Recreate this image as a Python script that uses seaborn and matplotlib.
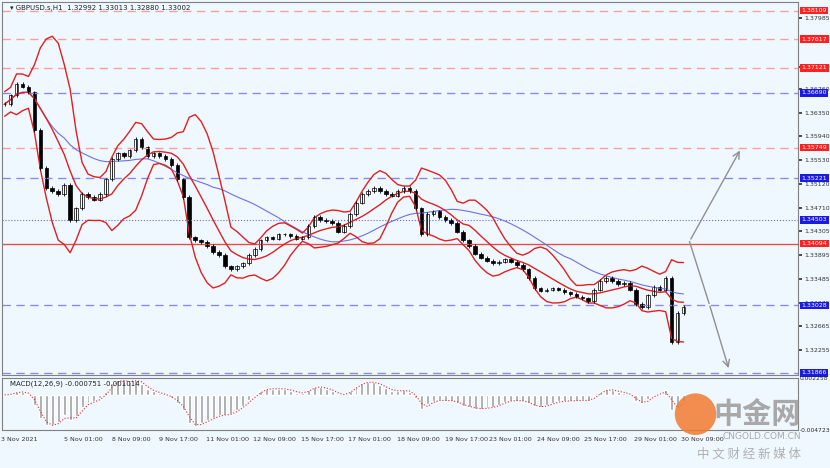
import numpy as np
import pandas as pd
import seaborn as sns
import matplotlib.pyplot as plt
from matplotlib.patches import Ellipse

sns.set_theme(style='white')
plt.rcParams['font.family'] = ['DejaVu Sans', 'Noto Sans CJK SC']

# 4-hour closes
closes = [1.3650, 1.3665, 1.3685, 1.3680, 1.3670, 1.3605, 1.3540, 1.3505, 1.3500, 1.3495,
          1.3510, 1.3450, 1.3470, 1.3495, 1.3490, 1.3485, 1.3495, 1.3520, 1.3555, 1.3565,
          1.3560, 1.3570, 1.3590, 1.3575, 1.3560, 1.3565, 1.3560, 1.3555, 1.3545, 1.3520,
          1.3490, 1.3420, 1.3415, 1.3412, 1.3405, 1.3395, 1.3390, 1.3370, 1.3365, 1.3370,
          1.3375, 1.3390, 1.3400, 1.3415, 1.3420, 1.3418, 1.3425, 1.3425, 1.3422, 1.3418,
          1.3420, 1.3440, 1.3455, 1.3450, 1.3448, 1.3445, 1.3430, 1.3440, 1.3460, 1.3480,
          1.3495, 1.3500, 1.3505, 1.3500, 1.3495, 1.3492, 1.3500, 1.3505, 1.3500, 1.3470,
          1.3425, 1.3460, 1.3465, 1.3455, 1.3450, 1.3445, 1.3430, 1.3415, 1.3405, 1.3392,
          1.3385, 1.3380, 1.3375, 1.3378, 1.3382, 1.3378, 1.3372, 1.3365, 1.3350, 1.3332,
          1.3328, 1.3330, 1.3332, 1.3330, 1.3325, 1.3322, 1.3318, 1.3315, 1.3310, 1.3330,
          1.3345, 1.3350, 1.3345, 1.3340, 1.3342, 1.3330, 1.3305, 1.3300, 1.3320, 1.3335,
          1.3330, 1.3350, 1.3240, 1.3290, 1.3300]
red_dash = [1.38109, 1.37617, 1.37121, 1.35749]
blue_dash = [1.36690, 1.35221, 1.33028, 1.31866]
blue_dot = 1.34503
red_solid = 1.34094
right_ticks = [1.37985, 1.37130, 1.36760, 1.36350, 1.35940, 1.35530, 1.35120, 1.34710,
               1.34305, 1.33895, 1.33485, 1.33075, 1.32665, 1.32255]
date_labels = ['3 Nov 2021', '5 Nov 01:00', '8 Nov 09:00', '9 Nov 17:00', '11 Nov 01:00',
               '12 Nov 09:00', '15 Nov 17:00', '17 Nov 01:00', '18 Nov 09:00', '19 Nov 17:00',
               '23 Nov 01:00', '24 Nov 09:00', '25 Nov 17:00', '29 Nov 01:00', '30 Nov 09:00']
date_pos = [2.5, 13.3, 21.2, 29.2, 37.5, 45.3, 53.3, 61.3, 69.5, 77.5, 85, 93, 100.8, 109.2, 117.2]

df = pd.DataFrame({'close': closes})
df['open'] = df['close'].shift(1).fillna(df['close'])
df['bar'] = np.arange(len(df))
mid = df['close'].rolling(8, min_periods=1).mean()
sd = df['close'].rolling(8, min_periods=2).std().bfill()
df['bb_mid'], df['bb_up'], df['bb_lo'] = mid, mid + 2 * sd, mid - 2 * sd
df['ma'] = df['close'].rolling(25, min_periods=1).mean()
macd = df['close'].ewm(span=3).mean() - df['close'].ewm(span=7).mean()
df['macd'] = macd
df['signal'] = macd.rolling(2, min_periods=1).mean()

bg = '#f0f8ff'
fig = plt.figure(figsize=(8.3, 4.68), dpi=100, facecolor=bg)
ax = fig.add_axes([0.002, 0.199, 0.960, 0.797], facecolor=bg)
ax2 = fig.add_axes([0.002, 0.081, 0.960, 0.111], facecolor=bg)

for v in red_dash:
    ax.axhline(v, color='#f4a0a0', ls=(0, (6, 4)), lw=1)
for v in blue_dash:
    ax.axhline(v, color='#8a8ae8', ls=(0, (6, 4)), lw=1)
ax.axhline(blue_dot, color='#6a6ad8', ls=':', lw=0.8)
ax.axhline(red_solid, color='#e05050', lw=1)

sns.lineplot(data=df, x='bar', y='ma', ax=ax, color='#7070e0', lw=0.8)
for c in ['bb_mid', 'bb_up', 'bb_lo']:
    sns.lineplot(data=df, x='bar', y=c, ax=ax, color='#e02020', lw=1)

for _, r in df.iterrows():
    lo, hi = min(r.open, r.close), max(r.open, r.close)
    ax.vlines(r.bar, lo - 0.0003, hi + 0.0003, color='black', lw=0.6)
    ax.bar(r.bar, max(hi - lo, 0.00005), bottom=lo, width=0.6,
           color='white' if r.close >= r.open else 'black', edgecolor='black', lw=0.5)

# forecast arrows
ax.annotate('', xy=(123.7, 1.3574), xytext=(115, 1.3413),
            arrowprops=dict(arrowstyle='->', color='#909090', lw=1))
ax.plot([115, 118.3], [1.3413, 1.3306], color='#909090', lw=1)
ax.annotate('', xy=(121.7, 1.3190), xytext=(118.3, 1.3306),
            arrowprops=dict(arrowstyle='->', color='#909090', lw=1))

ax.set_xlim(-0.5, 133.3)
ax.set_ylim(1.3183, 1.3826)
ax.set_xlabel('')
ax.set_ylabel('')
ax.set_xticks([])
ax.yaxis.tick_right()
ax.set_yticks(right_ticks)
ax.set_yticklabels([f'{v:.5f}' for v in right_ticks], fontsize=4.5)
ax.tick_params(axis='y', length=3, pad=1, colors='#333333')
for v, col in [(x, '#ff2020') for x in red_dash + [red_solid]] + \
              [(x, '#1a1ae0') for x in blue_dash + [blue_dot]]:
    ax.text(1.004, v, f'{v:.5f}', transform=ax.get_yaxis_transform(), fontsize=4.5,
            color='white', va='center', ha='left',
            bbox=dict(boxstyle='square,pad=0.2', fc=col, ec='none'))
ax.text(0.01, 0.992, '▾ GBPUSD.s,H1  1.32992 1.33013 1.32880 1.33002',
        transform=ax.transAxes, fontsize=5, va='top', color='#222222')

ax2.bar(df['bar'], df['macd'], width=0.5, color='#a0a0a0')
sns.lineplot(data=df, x='bar', y='signal', ax=ax2, color='#e03030', lw=0.8, ls=':')
ax2.set_xlim(-0.5, 133.3)
ax2.set_ylim(-0.004723, 0.002258)
ax2.set_ylabel('')
ax2.set_xlabel('')
ax2.yaxis.tick_right()
ax2.set_yticks([0.002258, -0.004723])
ax2.set_yticklabels(['0.002258', '-0.004723'], fontsize=4.3)
ax2.tick_params(axis='y', length=0, pad=1)
ax2.set_xticks(date_pos)
ax2.set_xticklabels(date_labels, fontsize=4.6, color='#333333')
ax2.tick_params(axis='x', length=3, pad=2)
ax2.text(0.01, 0.95, 'MACD(12,26,9) -0.000751 -0.001014', transform=ax2.transAxes,
         fontsize=5, va='top', color='#222222')

for a in (ax, ax2):
    for s in a.spines.values():
        s.set_color('#808080')
        s.set_linewidth(0.8)

# watermark
fig.patches.append(Ellipse((0.838, 0.115), 0.050, 0.089, transform=fig.transFigure,
                           fc='#f07a30', ec='none', alpha=0.85))
fig.text(0.965, 0.115, '中金网', fontsize=21, color='#a8a8a8', ha='right', va='center',
         family=['Noto Sans CJK SC'], weight='bold')
fig.text(0.965, 0.068, 'CNGOLD.COM.CN', fontsize=6.5, color='#a8a8a8', ha='right', va='center')
fig.text(0.965, 0.030, '中 文 财 经 新 媒 体', fontsize=9, color='#b0b0b0', ha='right',
         va='center', family=['Noto Sans CJK SC'])

fig.savefig('out.png', dpi=100, facecolor=bg)
